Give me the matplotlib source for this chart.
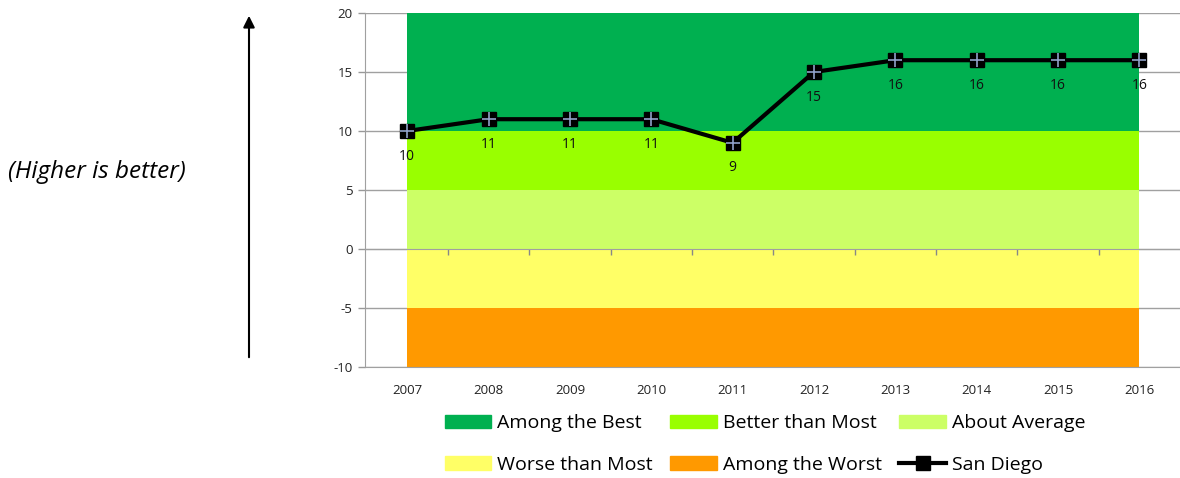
import numpy as np
import matplotlib.pyplot as plt
from matplotlib.patches import Patch, FancyArrowPatch
from matplotlib.lines import Line2D

plt.rcParams['font.family'] = ['Open Sans', 'DejaVu Sans']
plt.rcParams['axes.unicode_minus'] = False

# data
years = ['2007', '2008', '2009', '2010', '2011', '2012', '2013', '2014', '2015', '2016']
san_diego = [10, 11, 11, 11, 9, 15, 16, 16, 16, 16]

band_names = ['Among the Best', 'Better than Most', 'About Average',
              'Worse than Most', 'Among the Worst']
band_low = [10, 5, 0, -5, -10]
band_high = [20, 10, 5, 0, -5]
band_colors = ['#00B050', '#99FF00', '#CCFF66', '#FFFF66', '#FF9900']

x = np.arange(len(years))

fig = plt.figure(figsize=(11.8, 4.78), dpi=100)
ax = fig.add_axes([0.3093, 0.2322, 0.6907, 0.7406])

# bands
for lo, hi, c in zip(band_low, band_high, band_colors):
    ax.fill_between(x, lo, hi, color=c, lw=0, zorder=2)

# line + markers
ax.plot(x, san_diego, color='black', lw=3, zorder=4)
ax.plot(x, san_diego, ls='none', marker='s', ms=9.5, mfc='black', mec='black', zorder=5)
ax.plot(x, san_diego, ls='none', marker='+', ms=9.5, mew=1.2, color='#8FA0C8', zorder=6)

for xi, v in zip(x, san_diego):
    ax.annotate(str(v), (xi, v), xytext=(0, -25), textcoords='offset pixels',
                ha='center', va='center', fontsize=10, color='#111111', zorder=7)

# axes styling
ax.set_xlim(-0.52, 9.5)
ax.set_ylim(-10, 20)
ax.set_yticks(np.arange(-10, 21, 5))
ax.set_xticks(x)
ax.set_xticklabels(years)
ax.tick_params(axis='x', length=0, pad=12, labelsize=9.5, colors='#222222')
ax.tick_params(axis='y', length=5, width=1, color='#999999', labelsize=9.5,
               labelcolor='#222222', pad=4)
ax.yaxis.grid(True, color='#A0A0A0', lw=1)
ax.set_axisbelow(True)
for s in ['top', 'right']:
    ax.spines[s].set_visible(False)
ax.spines['left'].set_color('#A0A0A0')
ax.spines['bottom'].set_color('#A0A0A0')

# horizontal axis crossing at zero with tick marks between categories
sec = ax.secondary_xaxis(1 / 3)
sec.set_xticks(x[:-1] + 0.5)
sec.set_xticklabels([])
sec.tick_params(direction='out', length=4, color='#888888', width=1)
sec.spines['bottom'].set_color('#A0A0A0')
sec.spines['top'].set_visible(False)
sec.set_zorder(3)

# arrow and note
fig.patches.append(FancyArrowPatch(
    (249 / 1180, 1 - 360 / 478), (249 / 1180, 1 - 13 / 478), transform=fig.transFigure,
    arrowstyle='-|>', mutation_scale=17, color='black', lw=1.5))
fig.text(8 / 1180, 1 - 172 / 478, '(Higher is better)', fontsize=17.5, style='italic',
         ha='left', va='center', color='black')

# legend
h = [Patch(color=c) for c in band_colors]
line_h = Line2D([], [], color='black', lw=3, marker='s', ms=9.5, mfc='black')
handles = [h[0], h[3], h[1], h[4], h[2], line_h]
labels = [band_names[0], band_names[3], band_names[1], band_names[4], band_names[2], 'San Diego']
fig.legend(handles, labels, ncol=3, loc='center', bbox_to_anchor=(765 / 1180, 1 - 444 / 478),
           frameon=False, fontsize=14, handlelength=2.4, handleheight=0.7,
           labelspacing=1.2, columnspacing=0.9, handletextpad=0.3)

fig.savefig('out.png', dpi=100)
